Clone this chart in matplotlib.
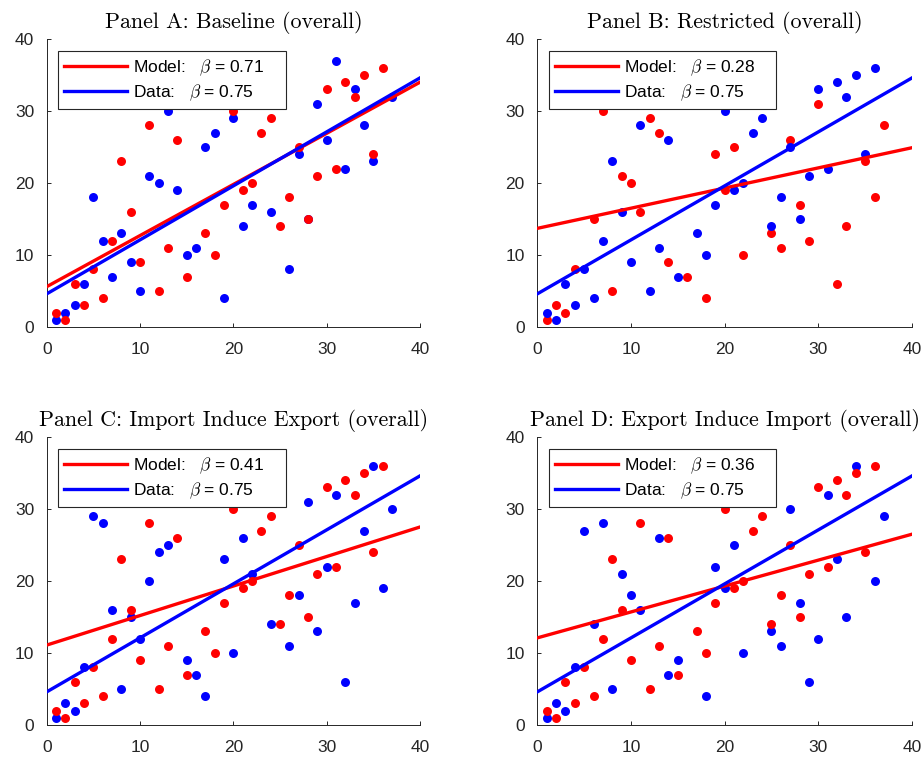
import numpy as np
import matplotlib
matplotlib.use("Agg")
import matplotlib.pyplot as plt

plt.rcParams['font.family'] = ['Liberation Sans', 'DejaVu Sans']
plt.rcParams['mathtext.fontset'] = 'cm'

# shared "data" ranks (same cloud in every panel)
data_x = [1, 2, 3, 4, 5, 6, 7, 8, 9, 10, 11, 12, 13, 14, 15, 17, 18, 19, 20, 21,
          22, 23, 24, 25, 26, 27, 28, 29, 30, 31, 32, 33, 34, 35, 36]
data_y = [2, 1, 6, 3, 8, 4, 12, 23, 16, 9, 28, 5, 11, 26, 7, 13, 10, 17, 30, 19,
          20, 27, 29, 14, 18, 25, 15, 21, 33, 22, 34, 32, 35, 24, 36]

# model ranks per panel
a_x = [1, 2, 3, 4, 5, 6, 7, 8, 9, 10, 11, 12, 13, 14, 15, 16, 17, 18, 19, 20,
       21, 22, 24, 26, 27, 28, 29, 30, 31, 32, 33, 34, 35, 37]
a_y = [1, 2, 3, 6, 18, 12, 7, 13, 9, 5, 21, 20, 30, 19, 10, 11, 25, 27, 4, 29,
       14, 17, 16, 8, 24, 15, 31, 26, 37, 22, 33, 28, 23, 32]
b_x = [1, 2, 3, 4, 6, 7, 8, 9, 10, 11, 12, 13, 14, 16, 18, 19, 20, 21, 22, 25,
       26, 27, 28, 29, 30, 32, 33, 35, 36, 37]
b_y = [1, 3, 2, 8, 15, 30, 5, 21, 20, 16, 29, 27, 9, 7, 4, 24, 19, 25, 10, 13,
       11, 26, 17, 12, 31, 6, 14, 23, 18, 28]
c_x = [1, 2, 3, 4, 5, 6, 7, 8, 9, 10, 11, 12, 13, 15, 16, 17, 19, 20, 21, 22,
       24, 26, 27, 28, 29, 30, 31, 32, 33, 34, 35, 36, 37]
c_y = [1, 3, 2, 8, 29, 28, 16, 5, 15, 12, 20, 24, 25, 9, 7, 4, 23, 10, 26, 21,
       14, 11, 18, 31, 13, 22, 32, 6, 17, 27, 36, 19, 30]
d_x = [1, 2, 3, 4, 5, 6, 7, 8, 9, 10, 11, 13, 14, 15, 18, 19, 20, 21, 22, 25,
       26, 27, 28, 29, 30, 31, 32, 33, 34, 36, 37]
d_y = [1, 3, 2, 8, 27, 14, 28, 5, 21, 18, 16, 26, 7, 9, 4, 22, 19, 25, 10, 13,
       11, 30, 17, 6, 12, 32, 23, 15, 36, 20, 29]

titles = ["Panel A: Baseline (overall)", "Panel B: Restricted (overall)",
          "Panel C: Import Induce Export (overall)", "Panel D: Export Induce Import (overall)"]
model_beta = [0.71, 0.28, 0.41, 0.36]
model_icpt = [5.6, 13.7, 11.1, 12.1]
data_beta = 0.75
data_icpt = 4.6
models = [(a_x, a_y), (b_x, b_y), (c_x, c_y), (d_x, d_y)]
# colour of the model cloud in each panel (data cloud gets the other one)
model_col = ['b', 'r', 'b', 'b']

fig = plt.figure(figsize=(9.24, 7.58), dpi=100)
W, H = 924, 758
boxes = [(46.7, 39, 420, 327), (537.3, 39, 912, 327),
         (46.7, 437, 420, 725), (537.3, 437, 912, 725)]

xs = np.array([0, 40])
for i in range(4):
    l, t, r, b = boxes[i]
    ax = fig.add_axes([l / W, 1 - b / H, (r - l) / W, (b - t) / H])
    mc = model_col[i]
    dc = 'r' if mc == 'b' else 'b'
    ax.scatter(models[i][0], models[i][1], s=42, c=mc, linewidths=0, zorder=2)
    ax.scatter(data_x, data_y, s=42, c=dc, linewidths=0, zorder=3)
    ax.plot(xs, model_icpt[i] + model_beta[i] * xs, color='r', lw=2.4, zorder=4,
            label='Model:   $\\beta$ = %.2f    ' % model_beta[i])
    ax.plot(xs, data_icpt + data_beta * xs, color='b', lw=2.4, zorder=4,
            label='Data:   $\\beta$ = %.2f    ' % data_beta)
    ax.set_xlim(0, 40)
    ax.set_ylim(0, 40)
    ax.set_xticks([0, 10, 20, 30, 40])
    ax.set_yticks([0, 10, 20, 30, 40])
    ax.spines['top'].set_visible(False)
    ax.spines['right'].set_visible(False)
    for s in ['left', 'bottom']:
        ax.spines[s].set_color('#262626')
        ax.spines[s].set_linewidth(0.7)
    ax.tick_params(direction='in', length=3, width=0.7, colors='#262626',
                   labelsize=12.5)
    ax.tick_params(axis='x', pad=11)
    ax.tick_params(axis='y', pad=9)
    ax.set_title(titles[i], fontfamily='cmr10', fontsize=15.8, pad=8)
    leg = ax.legend(loc='upper left', bbox_to_anchor=(11.6 / 373, 1 - 12 / 288),
                    borderaxespad=0, fontsize=12.5, handlelength=3.6,
                    handletextpad=0.35, labelspacing=0.3, fancybox=False,
                    framealpha=1, edgecolor='#262626', borderpad=0.35)
    leg.get_frame().set_linewidth(0.8)
    leg.set_zorder(5)

plt.savefig("out.png", dpi=100)
